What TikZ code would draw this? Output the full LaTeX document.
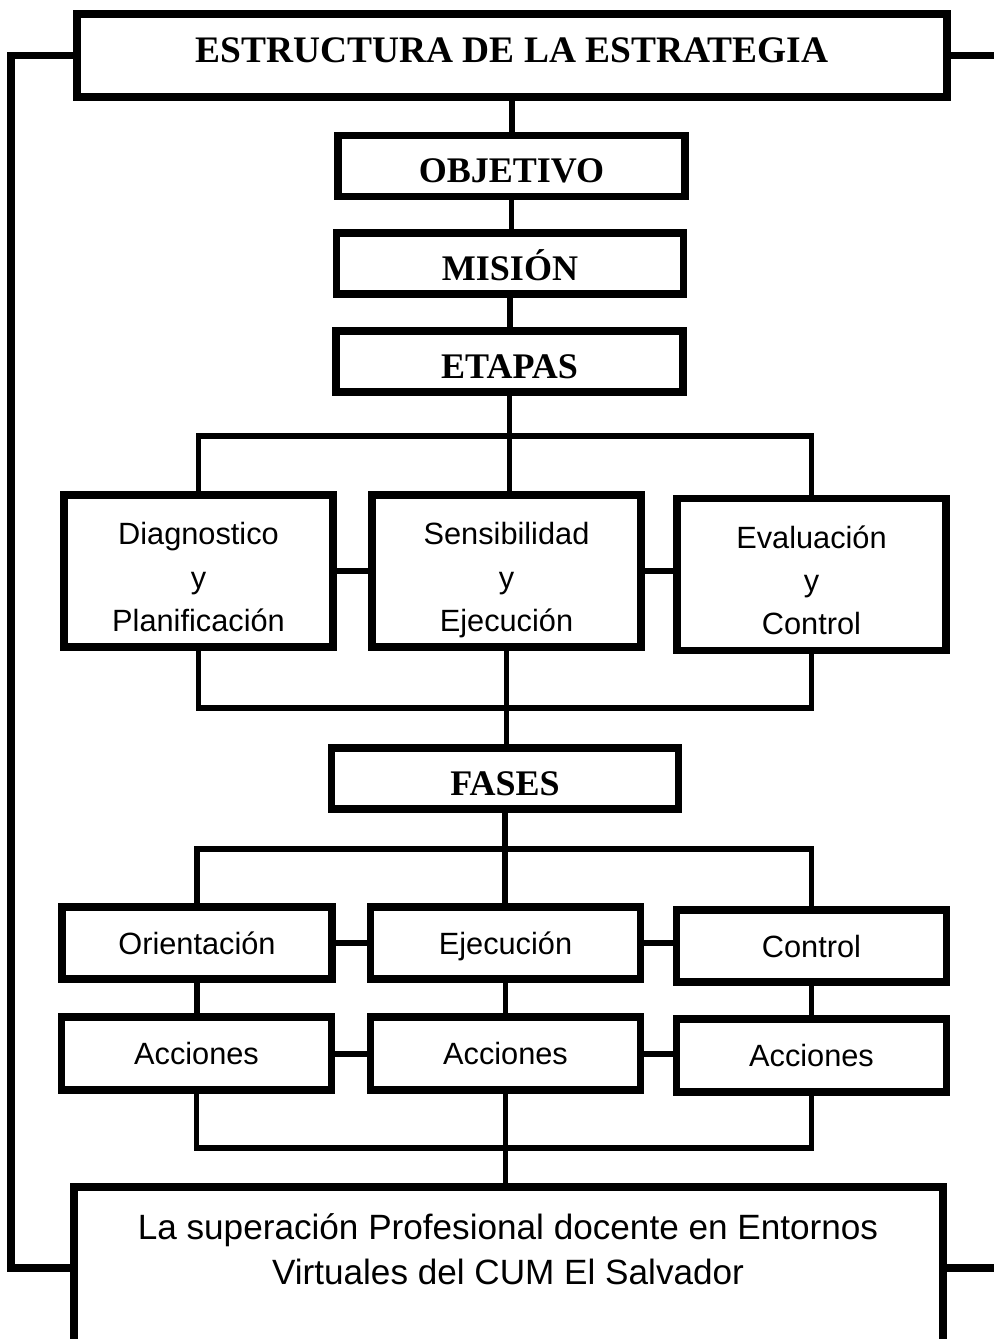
\documentclass[tikz,border=0pt]{standalone}
\usepackage{fontspec}
\setmainfont{Liberation Serif}
\setsansfont{Liberation Sans}
\usetikzlibrary{positioning}

\newcommand{\altura}{\rule{0pt}{1.36em}}

\tikzset{
  caja/.style={draw,rectangle,line width=4.5pt,inner sep=0pt,align=center},
  titulo/.style={caja,minimum width=17.4cm,minimum height=1.66cm,font=\bfseries\fontsize{21.3}{25}\selectfont,
    execute at begin node={\rule{0pt}{0.91em}},execute at end node={\rule[-0.51em]{0pt}{0.51em}}},
  cabecera/.style={caja,minimum width=6.94cm,minimum height=1.22cm,font=\bfseries\fontsize{20.5}{24}\selectfont,
    execute at begin node={\rule{0pt}{1.18em}},execute at end node={\rule[-0.25em]{0pt}{0.25em}}},
  etapa/.style={caja,minimum width=5.38cm,minimum height=3.04cm,font=\sffamily\fontsize{17.5}{24.6}\selectfont,
    execute at end node={\rule[-0.25em]{0pt}{0.25em}}},
  fase/.style={caja,minimum width=5.4cm,minimum height=1.45cm,font=\sffamily\fontsize{17.5}{24.4}\selectfont,
    execute at begin node={\rule{0pt}{0.97em}},execute at end node={\rule[-0.25em]{0pt}{0.25em}}},
  linea/.style={line width=3.4pt},
  borde/.style={line width=4.5pt}
}

\begin{document}
\begin{tikzpicture}[x=0.02cm,y=-0.02cm]
\clip (0,0) rectangle (994,1339);
%draw main column
\node[titulo] (estructura) at (512,55.5) {ESTRUCTURA DE LA ESTRATEGIA};
\node[cabecera] (objetivo) at (511.5,166) {OBJETIVO};
\node[cabecera] (mision) at (510,263.5) {MISIÓN};
\node[cabecera] (etapas) at (509.5,361.5) {ETAPAS};
%draw etapas
\node[etapa] (diag) at (198.5,571) {\altura Diagnostico\\y\\Planificación};
\node[etapa] (sens) at (506.5,571) {\altura Sensibilidad\\y\\Ejecución};
\node[etapa] (eval) at (811.5,574.5) {\altura Evaluación\\y\\Control};
\node[cabecera] (fases) at (505,778.5) {FASES};
%draw fases and acciones
\node[fase] (orient) at (197,943) {Orientación};
\node[fase] (ejec) at (505.5,943) {Ejecución};
\node[fase] (contr) at (811.5,946) {Control};
\foreach \n/\x/\y in {acc1/196.5/1053.5, acc2/505.5/1053.5, acc3/811.5/1055.5}{
  \node[fase] (\n) at (\x,\y) {Acciones};
}
%draw final box
\node[draw,line width=4.5pt,minimum width=17.38cm,minimum height=4.66cm] (meta) at (508.5,1303.5) {};
\node[align=center,font=\sffamily\fontsize{20}{25.5}\selectfont] (metatxt) at (508,1249.5)
  {La superación Profesional docente en Entornos\\Virtuales del CUM El Salvador};
%draw connectors
\coordinate (b1) at (512,436);
\coordinate (b2) at (506,708);
\coordinate (b3) at (507,849);
\coordinate (b4) at (508,1148);
\coordinate (izq) at (11,1268);
\coordinate (der) at (1000,58);
\draw[linea] (estructura.south) -- (estructura.south |- objetivo.north);
\draw[linea] (objetivo.south) -- (objetivo.south |- mision.north);
\draw[linea] (mision.south) -- (mision.south |- etapas.north);
\draw[linea] (etapas.south) -- (etapas.south |- sens.north);
\draw[linea] (diag.north) |- (b1) -| (eval.north);
\draw[linea] (diag) -- (sens);
\draw[linea] (sens) -- (sens -| eval.west);
\draw[linea] (diag.south) |- (b2) -| (eval.south);
\draw[linea] (sens.south) -- (sens.south |- fases.north);
\draw[linea] (fases.south) -- (fases.south |- ejec.north);
\draw[linea] (orient.north) |- (b3) -| (contr.north);
\draw[linea] (orient) -- (ejec);
\draw[linea] (ejec) -- (ejec -| contr.west);
\foreach \a/\b in {orient/acc1, ejec/acc2, contr/acc3}{
  \draw[linea] (\a.south) -- (\a.south |- \b.north);
}
\draw[linea] (acc1) -- (acc2);
\draw[linea] (acc2) -- (acc2 -| acc3.west);
\draw[linea] (acc1.south) |- (b4) -| (acc3.south);
\draw[linea] (acc2.south) -- (acc2.south |- meta.north);
%draw outer lines
\draw[borde] (estructura.west) -| (izq) -- (izq -| meta.west);
\draw[borde] (estructura.east) -- (estructura.east -| der);
\draw[borde] (meta.east |- izq) -- (der |- izq);
\end{tikzpicture}
\end{document}
